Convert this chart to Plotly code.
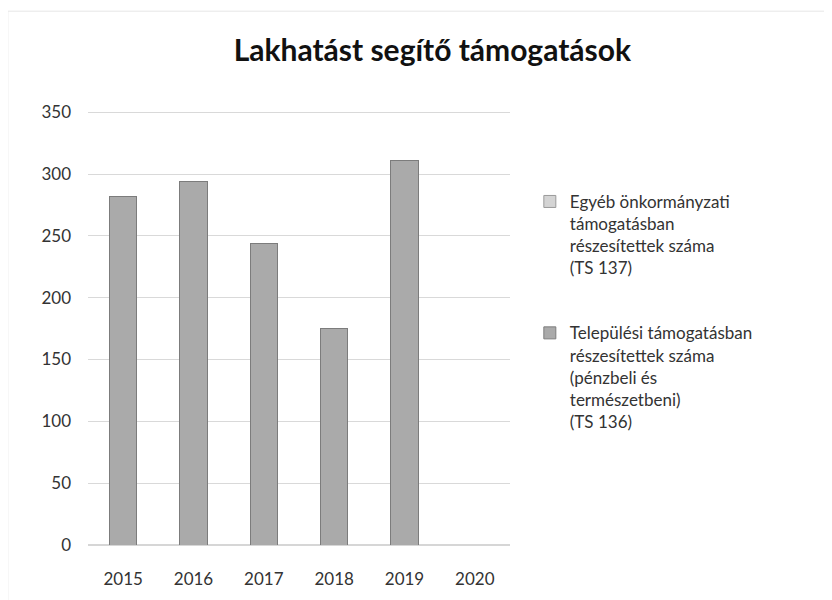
import plotly.graph_objects as go

# Data
years = ["2015", "2016", "2017", "2018", "2019", "2020"]
egyeb_ts137 = [None, None, None, None, None, None]
telepulesi_ts136 = [282, 294, 244, 175, 311, None]

name_137 = "Egyéb önkormányzati<br>támogatásban<br>részesítettek száma<br>(TS 137)"
name_136 = "Települési támogatásban<br>részesítettek száma<br>(pénzbeli és<br>természetbeni)<br>(TS 136)"

fig = go.Figure()
fig.add_trace(go.Bar(x=years, y=egyeb_ts137, name=name_137, legendgroup="a",
                     marker=dict(color="#d4d4d4", line=dict(color="#9a9a9a", width=1))))
fig.add_trace(go.Bar(x=years, y=telepulesi_ts136, name=name_136, legendgroup="b",
                     marker=dict(color="#aaaaaa", line=dict(color="#7c7c7c", width=1))))

fig.update_layout(
    width=832, height=600,
    barmode="stack", bargap=0.61,
    paper_bgcolor="white", plot_bgcolor="white",
    font=dict(family="Lato, 'Open Sans', sans-serif", size=16, color="#333333"),
    title=dict(text="<b>Lakhatást segítő támogatások</b>", x=0.51, xanchor="center",
               y=0.93, yanchor="middle", font=dict(size=30, color="#111111")),
    margin=dict(l=80, r=330, t=103, b=63),
    showlegend=True,
    legend=dict(x=1.047, y=0.832, xanchor="left", yanchor="top", traceorder="grouped",
                tracegroupgap=40, valign="top", font=dict(size=17, color="#333333"),
                itemwidth=30, bgcolor="rgba(0,0,0,0)"),
    xaxis=dict(showline=False, ticks="", tickfont=dict(size=17), ticklabelstandoff=22,
               automargin=False),
    yaxis=dict(range=[0, 351], dtick=50, showgrid=True, gridcolor="#d9d9d9",
               gridwidth=1, zeroline=True, zerolinecolor="#d6d6d6",
               ticks="", tickfont=dict(size=17), ticklabelstandoff=16, automargin=False),
    shapes=[dict(type="rect", xref="paper", yref="paper",
                 x0=-0.19, x1=1.99, y0=-0.13, y1=1.23,
                 line=dict(color="#e6e6e6", width=1))],
)

fig.write_html("out.html")
